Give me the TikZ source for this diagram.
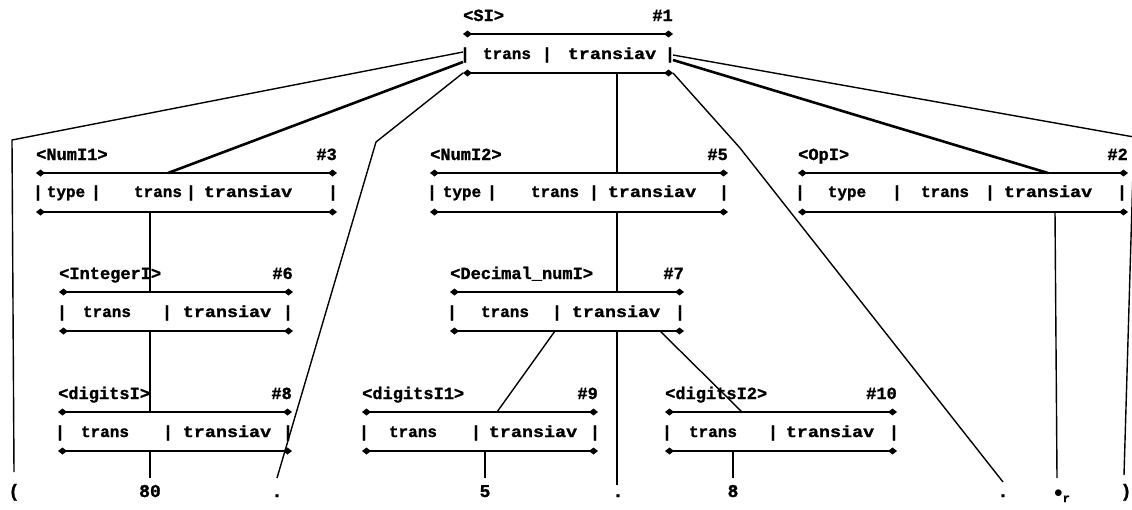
\documentclass[tikz,border=0pt]{standalone}
\usepackage{fontspec}
\usetikzlibrary{arrows.meta}
\newfontfamily\dfont{Liberation Mono}[FakeBold=1.2]
\newfontfamily\dwfont{Liberation Mono}[FakeStretch=1.15,FakeBold=1.2]
\newcommand\mkbox[6]{%
  \coordinate (#1-tl) at (#2,#4); \coordinate (#1-tr) at (#3,#4);
  \coordinate (#1-bl) at (#2,#4+39); \coordinate (#1-br) at (#3,#4+39);
  \node[lab] (#1-lab) at (#2,#4-13) {#5};
  \node[num] (#1-num) at (#3,#4-13) {#6};
  \draw[boxline] (#1-tl) -- (#1-tr);
  \draw[boxline] (#1-bl) -- (#1-br);
}
\newcommand\mkcells[3]{%
  \foreach \xx/\tt [count=\ii] in {#3} {\node[cell] (#1-c\ii) at (\xx,#2+5) {\tt};}
}
\newcommand\tv{{\dwfont\bfseries transiav}}
\begin{document}
\begin{tikzpicture}[x=1pt,y=-1pt,
  lab/.style={font=\dfont\bfseries\fontsize{17}{17}\selectfont, inner sep=0, anchor=base west},
  num/.style={font=\dfont\bfseries\fontsize{17}{17}\selectfont, inner sep=0, anchor=base east},
  cell/.style={font=\dfont\bfseries\fontsize{16}{16}\selectfont, inner sep=0, anchor=base},
  leaf/.style={font=\dfont\bfseries\fontsize{18}{18}\selectfont, inner sep=0, anchor=base},
  boxline/.style={line width=1.9pt, {Diamond[length=9pt,width=7pt]}-{Diamond[length=9pt,width=7pt]}},
  conn/.style={line width=1.4pt, line join=round},
  thick conn/.style={line width=2.6pt, line join=round}]
\useasboundingbox (0,0) rectangle (1132,509);

% boxes
\mkbox{si}{463}{673}{34}{<SI>}{\#1}
\mkcells{si}{54}{465/|,507/trans,547/|,612/\tv,670/|}
\mkbox{nA}{36}{337}{173}{<NumI1>}{\#3}
\mkcells{nA}{192}{38/|,66/type,96/|,158/trans,191/|,248/\tv,333/|}
\mkbox{nB}{430}{728}{173}{<NumI2>}{\#5}
\mkcells{nB}{192}{432/|,462/type,492/|,555/trans,594/|,652/\tv,724/|}
\mkbox{op}{798}{1128}{173}{<OpI>}{\#2}
\mkcells{op}{192}{800/|,847/type,897/|,945/trans,990/|,1048/\tv,1122/|}
\mkbox{in}{59}{293}{292}{<IntegerI>}{\#6}
\mkcells{in}{312}{62/|,107/trans,167/|,227/\tv,288/|}
\mkbox{de}{450}{684}{292}{<Decimal\_numI>}{\#7}
\mkcells{de}{312}{452/|,505/trans,557/|,616/\tv,680/|}
\mkbox{dA}{58}{292}{412}{<digitsI>}{\#8}
\mkcells{dA}{432}{60/|,105/trans,168/|,227/\tv,288/|}
\mkbox{dB}{362}{598}{412}{<digitsI1>}{\#9}
\mkcells{dB}{432}{364/|,413/trans,476/|,533/\tv,595/|}
\mkbox{dC}{665}{897}{412}{<digitsI2>}{\#10}
\mkcells{dC}{432}{667/|,713/trans,773/|,830/\tv,894/|}

% leaves
\node[leaf] (lf1) at (14,497) {(};
\node[leaf] (lf2) at (150,497) {80};
\node[leaf] (lf3) at (277,497) {.};
\node[leaf] (lf4) at (485,497) {5};
\node[leaf] (lf5) at (618,497) {.};
\node[leaf] (lf6) at (733,497) {8};
\node[leaf] (lf7) at (1003,497) {.};
\node[leaf] (lf8) at (1062,497) {$\bullet$\raisebox{-5pt}{\fontsize{12}{12}\selectfont r}};
\node[leaf] (lf9) at (1126,497) {)};

% named points
\coordinate (s-w1) at (463,52);
\coordinate (s-w2) at (463,62);
\coordinate (s-e1) at (673,55);
\coordinate (s-e2) at (673,60);
\coordinate (s-b) at (617,73);
\coordinate (k1) at (12,140);
\coordinate (k2) at (376,142);
\coordinate (k3) at (740,148);
\coordinate (k4) at (1134,137);
\coordinate (e1) at (14,472);
\coordinate (e3) at (277,478);
\coordinate (e7) at (1003,482);
\coordinate (e9) at (1124,475);
\coordinate (nA-t) at (168,173);
\coordinate (op-t) at (1048,173);
\coordinate (nB-t) at (617,173);
\coordinate (nA-b) at (150,212);
\coordinate (in-t) at (150,292);
\coordinate (nB-b) at (617,212);
\coordinate (de-t) at (617,292);
\coordinate (in-b) at (150,331);
\coordinate (dA-t) at (150,412);
\coordinate (de-b1) at (555,331);
\coordinate (de-b2) at (617,331);
\coordinate (de-b3) at (660,331);
\coordinate (dB-t) at (497,412);
\coordinate (dC-t) at (742,412);
\coordinate (e5) at (617,485);
\coordinate (dA-b) at (150,451);
\coordinate (dB-b) at (485,451);
\coordinate (dC-b) at (733,451);
\coordinate (op-b) at (1055,212);
\coordinate (e2) at (150,478);
\coordinate (e4) at (485,478);
\coordinate (e6) at (733,478);
\coordinate (e8) at (1057,478);

% connectors
\draw[conn] (s-w1) -- (k1) -- (e1);
\draw[thick conn] (s-w2) -- (nA-t);
\draw[conn] (si-bl) -- (k2) -- (e3);
\draw[conn] (s-b) -- (nB-t);
\draw[conn] (si-br) -- (k3) -- (e7);
\draw[thick conn] (s-e2) -- (op-t);
\draw[conn] (s-e1) -- (k4) -- (e9);
\draw[conn] (nA-b) -- (in-t);
\draw[conn] (nB-b) -- (de-t);
\draw[conn] (in-b) -- (dA-t);
\draw[conn] (de-b1) -- (dB-t);
\draw[conn] (de-b2) -- (e5);
\draw[conn] (de-b3) -- (dC-t);
\draw[conn] (dA-b) -- (e2);
\draw[conn] (dB-b) -- (e4);
\draw[conn] (dC-b) -- (e6);
\draw[conn] (op-b) -- (e8);
\end{tikzpicture}
\end{document}
